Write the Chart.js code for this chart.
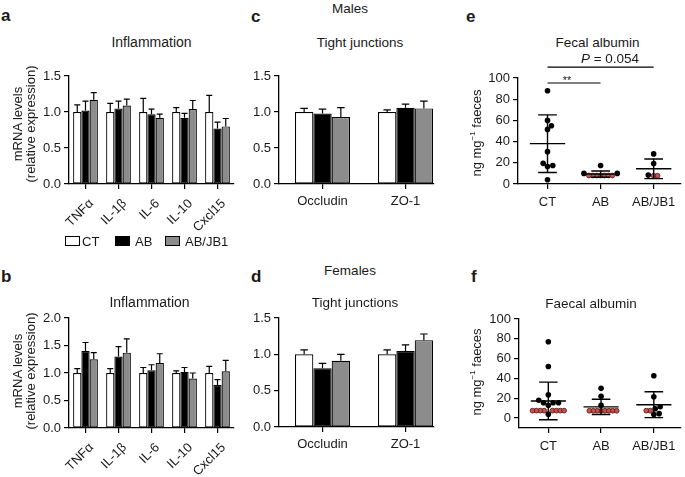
<!DOCTYPE html>
<html><head><meta charset="utf-8">
<script src="https://cdn.jsdelivr.net/npm/chart.js@4.4.0/dist/chart.umd.min.js"></script>
<style>
body{margin:0;background:#fff;}
#fig{position:relative;width:685px;height:477px;overflow:hidden;font-family:'Liberation Sans',Arial,sans-serif;color:#1a1a1a;background:#fff;}
canvas{position:absolute;}
.t{position:absolute;white-space:nowrap;font-size:13.5px;line-height:13px;transform:translate(-50%,-50%);}
.lbl{position:absolute;font-weight:bold;font-size:17px;line-height:17px;}
.yt{position:absolute;white-space:nowrap;font-size:13px;line-height:12.5px;text-align:center;transform:translate(-50%,-50%) rotate(-90deg);}
.lg{position:absolute;width:13px;height:8px;border:1px solid #000;}
.lt{position:absolute;font-size:13px;line-height:13px;white-space:nowrap;}
sup{font-size:8px;vertical-align:6px;line-height:0;}
</style></head>
<body>
<div id="fig">
  <canvas id="ca"></canvas><canvas id="cb"></canvas><canvas id="cc"></canvas>
  <canvas id="cd"></canvas><canvas id="ce"></canvas><canvas id="cf"></canvas>

  <div class="lbl" style="left:1px;top:7px;">a</div>
  <div class="lbl" style="left:1px;top:268px;">b</div>
  <div class="lbl" style="left:251px;top:8px;">c</div>
  <div class="lbl" style="left:251px;top:268px;">d</div>
  <div class="lbl" style="left:466px;top:8px;">e</div>
  <div class="lbl" style="left:471px;top:268px;">f</div>

  <div class="t" style="left:151.5px;top:42px;font-size:14px;">Inflammation</div>
  <div class="t" style="left:149.5px;top:302px;font-size:14px;">Inflammation</div>
  <div class="t" style="left:350px;top:8px;">Males</div>
  <div class="t" style="left:360px;top:42px;">Tight junctions</div>
  <div class="t" style="left:350px;top:269.5px;">Females</div>
  <div class="t" style="left:355px;top:302px;">Tight junctions</div>
  <div class="t" style="left:597.5px;top:42px;">Fecal albumin</div>
  <div class="t" style="left:610px;top:57.5px;"><i>P</i> = 0.054</div>
  <div class="t" style="left:567px;top:80px;font-size:11px;">**</div>
  <div class="t" style="left:591px;top:303px;">Faecal albumin</div>

  <div class="yt" style="left:24px;top:124px;">mRNA levels<br>(relative expression)</div>
  <div class="yt" style="left:24px;top:371px;">mRNA levels<br>(relative expression)</div>
  <div class="yt" style="left:476.5px;top:132.5px;">ng mg<sup>−1</sup> faeces</div>
  <div class="yt" style="left:476.5px;top:371.5px;">ng mg<sup>−1</sup> faeces</div>

  <div class="lg" style="left:65px;top:236px;background:#fff;"></div>
  <div class="lt" style="left:82px;top:234.5px;">CT</div>
  <div class="lg" style="left:115px;top:236px;background:#000;"></div>
  <div class="lt" style="left:135px;top:234.5px;">AB</div>
  <div class="lg" style="left:165px;top:236px;background:#8c8c8c;"></div>
  <div class="lt" style="left:185px;top:234.5px;">AB/JB1</div>
</div>
<script>
// ---------- data ----------
const genes = ['TNFα', 'IL-1β', 'IL-6', 'IL-10', 'Cxcl15'];
const junctions = ['Occludin', 'ZO-1'];
const groups = ['CT', 'AB', 'AB/JB1'];

const ticks15 = [0, 0.5, 1.0, 1.5];
const ticks20 = [0, 0.5, 1.0, 1.5, 2.0];
const ticksAlb = [0, 20, 40, 60, 80, 100];

// a: Males, inflammation (mean, upper error)
const aCT = [1.00, 1.00, 1.00, 1.00, 1.00];
const aCTErr = [0.10, 0.12, 0.19, 0.06, 0.23];
const aAB = [1.02, 1.05, 0.97, 0.92, 0.77];
const aABErr = [0.13, 0.10, 0.07, 0.06, 0.09];
const aJB1 = [1.17, 1.09, 0.92, 1.04, 0.80];
const aJB1Err = [0.10, 0.09, 0.05, 0.12, 0.11];

// b: Females, inflammation
const bCT = [1.00, 1.00, 1.00, 1.00, 1.00];
const bCTErr = [0.08, 0.08, 0.10, 0.04, 0.12];
const bAB = [1.40, 1.30, 1.05, 1.02, 0.78];
const bABErr = [0.155, 0.18, 0.10, 0.08, 0.10];
const bJB1 = [1.25, 1.37, 1.18, 0.90, 1.03];
const bJB1Err = [0.12, 0.25, 0.17, 0.10, 0.20];

// c: Males, tight junctions
const cCT = [1.00, 1.00];
const cCTErr = [0.05, 0.03];
const cAB = [0.98, 1.06];
const cABErr = [0.06, 0.05];
const cJB1 = [0.93, 1.05];
const cJB1Err = [0.13, 0.10];

// d: Females, tight junctions
const dCT = [1.00, 1.00];
const dCTErr = [0.06, 0.06];
const dAB = [0.81, 1.045];
const dABErr = [0.065, 0.085];
const dJB1 = [0.91, 1.195];
const dJB1Err = [0.09, 0.085];

// e: Fecal albumin (males), black and red (low) points
const eCT = [88, 60, 55, 51.5, 30.5, 19.5, 17.5, 16.5, 4];
const eCTRed = [];
const eAB = [17.5, 10, 10];
const eABRed = [8, 8, 8, 8, 8, 8, 8];
const eJB1 = [28.4, 19.3, 8.4];
const eJB1Red = [7.8, 7.8];

// f: Faecal albumin (females)
const fCT = [77, 52, 23.5, 18, 15.5, 15.5, 15.5, 13, 4];
const fCTRed = [7.5, 7.5, 7.5, 7.5, 7.5, 7.5, 7.5, 7.5];
const fAB = [30, 22, 13];
const fABRed = [7.4, 7.4, 7.4, 7.4, 7.4, 7.4, 7.4, 7.4];
const fJB1 = [42.7, 21.5, 11.5, 9.5, 4.5, 3.5];
const fJB1Red = [7.5, 7.5];

// ---------- setup ----------
Chart.defaults.font.family = "'Liberation Sans', Arial, sans-serif";
Chart.defaults.font.size = 13;
Chart.defaults.color = '#1a1a1a';
Chart.defaults.animation = false;
Chart.defaults.responsive = false;
Chart.defaults.devicePixelRatio = 1;
Chart.defaults.plugins.legend.display = false;
Chart.defaults.plugins.tooltip.enabled = false;

function place(cv, area, yW, xH, padTop, padRight) {
  const left = area.left - yW, top = area.top - padTop;
  cv.style.left = left + 'px';
  cv.style.top = top + 'px';
  cv.width = Math.round(area.right + padRight - left);
  cv.height = Math.round(area.bottom + xH - top);
}

function gridStyle() {
  return { display: true, drawOnChartArea: false, drawTicks: true, tickLength: 5, color: '#000', lineWidth: 1.2, offset: false };
}
function borderStyle() { return { display: true, color: '#000', width: 1.3 }; }

function errBarsPlugin(cap) {
  return {
    id: 'errBars',
    afterDatasetsDraw(chart) {
      const ctx = chart.ctx, ys = chart.scales.y;
      ctx.save();
      ctx.strokeStyle = '#000';
      ctx.lineWidth = 1.2;
      chart.data.datasets.forEach((ds, di) => {
        const meta = chart.getDatasetMeta(di);
        ds.errors.forEach((e, i) => {
          const el = meta.data[i];
          const yTop = ys.getPixelForValue(ds.data[i].y + e);
          ctx.beginPath();
          ctx.moveTo(el.x, el.y);
          ctx.lineTo(el.x, yTop);
          ctx.moveTo(el.x - cap / 2, yTop);
          ctx.lineTo(el.x + cap / 2, yTop);
          ctx.stroke();
        });
      });
      ctx.restore();
    }
  };
}

function barPanel(id, area, cats, series, errs, yTicks, xMin, xMax, catPct, cap, rotate) {
  const cv = document.getElementById(id);
  const yW = 40, xH = rotate ? 62 : 30, padTop = 12, padRight = 6;
  place(cv, area, yW, xH, padTop, padRight);
  const fills = ['#ffffff', '#000000', '#8c8c8c'];
  return new Chart(cv, {
    type: 'bar',
    data: {
      datasets: series.map((vals, k) => ({
        label: groups[k],
        data: vals.map((v, i) => ({ x: i, y: v })),
        errors: errs[k],
        backgroundColor: fills[k],
        borderColor: '#000',
        borderWidth: 1.2,
        borderSkipped: false,
        barPercentage: 1,
        categoryPercentage: catPct
      }))
    },
    options: {
      layout: { padding: { top: padTop, right: padRight, left: 0, bottom: 0 } },
      scales: {
        x: {
          type: 'linear', min: xMin, max: xMax, offset: false,
          grid: gridStyle(), border: borderStyle(),
          afterBuildTicks: s => { s.ticks = cats.map((_, i) => ({ value: i })); },
          afterFit: s => { s.height = xH; s.paddingLeft = 0; s.paddingRight = 0; },
          ticks: {
            autoSkip: false, maxRotation: rotate ? 45 : 0, minRotation: rotate ? 45 : 0,
            padding: rotate ? 7 : 5, labelOffset: rotate ? 6 : 0,
            callback: (v, i) => cats[i]
          }
        },
        y: {
          min: 0, max: yTicks[yTicks.length - 1],
          grid: gridStyle(), border: borderStyle(),
          afterBuildTicks: s => { s.ticks = yTicks.map(v => ({ value: v })); },
          afterFit: s => { s.width = yW; s.paddingTop = 0; s.paddingBottom = 0; },
          ticks: { padding: 3, callback: v => Number(v).toFixed(1) }
        }
      }
    },
    plugins: [errBarsPlugin(cap)]
  });
}

function meanSDPlugin(groupVals, meanHalf, capHalf) {
  return {
    id: 'meanSD',
    afterDatasetsDraw(chart) {
      const sx = chart.scales.x, sy = chart.scales.y, ctx = chart.ctx;
      ctx.save();
      ctx.strokeStyle = '#000';
      ctx.lineWidth = 1.4;
      groupVals.forEach((vals, g) => {
        const n = vals.length;
        const m = vals.reduce((s, v) => s + v, 0) / n;
        const sd = Math.sqrt(vals.reduce((s, v) => s + (v - m) * (v - m), 0) / (n - 1));
        const cx = sx.getPixelForValue(g);
        const hw = sx.getPixelForValue(g + meanHalf) - cx;
        const cw = sx.getPixelForValue(g + capHalf) - cx;
        const yM = sy.getPixelForValue(m), yT = sy.getPixelForValue(m + sd), yB = sy.getPixelForValue(m - sd);
        ctx.beginPath();
        ctx.moveTo(cx - hw, yM); ctx.lineTo(cx + hw, yM);
        ctx.moveTo(cx, yT); ctx.lineTo(cx, yB);
        ctx.moveTo(cx - cw, yT); ctx.lineTo(cx + cw, yT);
        ctx.moveTo(cx - cw, yB); ctx.lineTo(cx + cw, yB);
        ctx.stroke();
      });
      ctx.restore();
    }
  };
}

function sigPlugin(sigs) {
  return {
    id: 'sig',
    afterDatasetsDraw(chart) {
      const sx = chart.scales.x, sy = chart.scales.y, ctx = chart.ctx;
      ctx.save();
      ctx.strokeStyle = '#000';
      ctx.lineWidth = 1.2;
      sigs.forEach(s => {
        const y = sy.getPixelForValue(s.y);
        ctx.beginPath();
        ctx.moveTo(sx.getPixelForValue(s.from), y);
        ctx.lineTo(sx.getPixelForValue(s.to), y);
        ctx.stroke();
      });
      ctx.restore();
    }
  };
}

function scatterPanel(id, area, blacks, reds, yMin, yTicks, padTop, sigs) {
  const cv = document.getElementById(id);
  const yW = 40, xH = 30, padRight = 2;
  place(cv, area, yW, xH, padTop, padRight);
  const blackPts = [], redPts = [];
  blacks.forEach((arr, g) => arr.forEach(v => blackPts.push({ x: g, y: v, g: g, red: false })));
  reds.forEach((arr, g) => arr.forEach(v => redPts.push({ x: g, y: v, g: g, red: true })));
  const combined = blacks.map((arr, g) => arr.concat(reds[g]));
  const chart = new Chart(cv, {
    type: 'scatter',
    data: {
      datasets: [
        { data: redPts, backgroundColor: '#c8514e', borderColor: '#4a1512', borderWidth: 0.8, pointRadius: 2.4, order: 0 },
        { data: blackPts, backgroundColor: '#000', borderColor: '#000', borderWidth: 0, pointRadius: 2.8, order: 1 }
      ]
    },
    options: {
      layout: { padding: { top: padTop, right: padRight, left: 0, bottom: 0 } },
      scales: {
        x: {
          type: 'linear', min: -0.556, max: 2.5, offset: false,
          grid: gridStyle(), border: borderStyle(),
          afterBuildTicks: s => { s.ticks = groups.map((_, i) => ({ value: i })); },
          afterFit: s => { s.height = xH; s.paddingLeft = 0; s.paddingRight = 0; },
          ticks: { autoSkip: false, maxRotation: 0, minRotation: 0, padding: 6, callback: (v, i) => groups[i] }
        },
        y: {
          min: yMin, max: yTicks[yTicks.length - 1],
          grid: gridStyle(), border: borderStyle(),
          afterBuildTicks: s => { s.ticks = yTicks.map(v => ({ value: v })); },
          afterFit: s => { s.width = yW; s.paddingTop = 0; s.paddingBottom = 0; },
          ticks: { padding: 3 }
        }
      }
    },
    plugins: [meanSDPlugin(combined, 0.333, 0.176), sigPlugin(sigs || [])]
  });
  // beeswarm placement in pixel space, converted back through the x scale
  const sx = chart.scales.x, sy = chart.scales.y;
  const ppu = sx.getPixelForValue(1) - sx.getPixelForValue(0);
  const dist = (a, b) => (a.red && b.red) ? 3.9 : 5.4;
  groups.forEach((_, g) => {
    const pts = blackPts.concat(redPts).filter(p => p.g === g);
    pts.sort((a, b) => (a.y - b.y) || (b.red - a.red));
    const placed = [];
    pts.forEach(p => {
      const py = sy.getPixelForValue(p.y);
      const cands = [0];
      placed.forEach(q => {
        const D = dist(p, q), dy = py - q.py;
        if (Math.abs(dy) < D) {
          const dx = Math.sqrt(D * D - dy * dy);
          cands.push(q.ox + dx, q.ox - dx);
        }
      });
      cands.sort((a, b) => (Math.abs(a) - Math.abs(b)) || (b - a));
      let ox = 0;
      for (const c of cands) {
        if (placed.every(q => Math.hypot(c - q.ox, py - q.py) >= dist(p, q) - 0.01)) { ox = c; break; }
      }
      placed.push({ ox: ox, py: py, red: p.red });
      p.x = g + ox / ppu;
    });
  });
  chart.update('none');
  return chart;
}

// ---------- panels ----------
barPanel('ca', { left: 69, top: 76, right: 234, bottom: 184 }, genes,
  [aCT, aAB, aJB1], [aCTErr, aABErr, aJB1Err], ticks15, -0.5, 4.5, 0.75, 6, true);
barPanel('cb', { left: 69, top: 318, right: 234, bottom: 428 }, genes,
  [bCT, bAB, bJB1], [bCTErr, bABErr, bJB1Err], ticks20, -0.5, 4.5, 0.75, 6, true);
barPanel('cc', { left: 279, top: 76, right: 434, bottom: 184 }, junctions,
  [cCT, cAB, cJB1], [cCTErr, cABErr, cJB1Err], ticks15, -0.524, 1.343, 0.663, 7.5, false);
barPanel('cd', { left: 279, top: 318, right: 434, bottom: 427 }, junctions,
  [dCT, dAB, dJB1], [dCTErr, dABErr, dJB1Err], ticks15, -0.524, 1.343, 0.663, 7.5, false);
scatterPanel('ce', { left: 518, top: 78, right: 683, bottom: 184 },
  [eCT, eAB, eJB1], [eCTRed, eABRed, eJB1Red], 0, ticksAlb, 16,
  [{ from: 0, to: 1, y: 95.3 }, { from: 0, to: 2, y: 110.3 }]);
scatterPanel('cf', { left: 519, top: 319, right: 683, bottom: 428 },
  [fCT, fAB, fJB1], [fCTRed, fABRed, fJB1Red], -10, ticksAlb, 12, []);
</script>
</body></html>
